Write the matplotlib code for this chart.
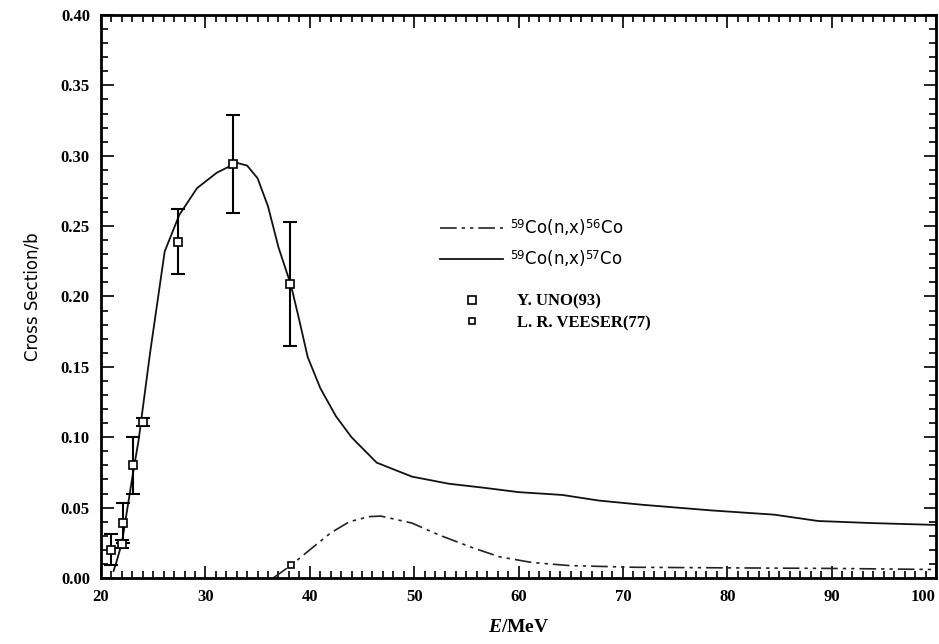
import matplotlib
matplotlib.use("Agg")
import matplotlib.pyplot as plt
from matplotlib.ticker import MultipleLocator, FormatStrFormatter

# 59Co(n,x)57Co excitation curve (solid)
e_co57 = [21.2, 21.5, 22.0, 22.9, 23.6, 24.7, 26.1, 27.5, 29.2, 31.1, 33.0, 34.0,
          35.0, 36.0, 37.0, 38.2, 39.0, 39.8, 41.0, 42.5, 44.0, 46.4, 48.6, 49.8,
          53.3, 56.8, 60.0, 64.2, 67.7, 71.9, 78.5, 84.5, 88.7, 93.9, 100.0]
xs_co57 = [0.005, 0.012, 0.025, 0.067, 0.098, 0.160, 0.232, 0.258, 0.277, 0.288, 0.295, 0.293,
           0.284, 0.264, 0.235, 0.208, 0.183, 0.157, 0.135, 0.115, 0.100, 0.082, 0.0755, 0.072,
           0.067, 0.064, 0.061, 0.059, 0.055, 0.052, 0.048, 0.045, 0.0405, 0.039, 0.0377]

# 59Co(n,x)56Co excitation curve (dash-dot)
e_co56 = [36.5, 38.2, 40.0, 42.0, 43.8, 45.7, 46.8, 48.6, 49.8, 52.4, 54.0, 55.6,
          58.2, 61.3, 64.9, 71.2, 80.0, 90.0, 97.8, 100.0]
xs_co56 = [0.0, 0.009, 0.020, 0.032, 0.040, 0.0436, 0.044, 0.041, 0.039, 0.0305, 0.026, 0.0215,
           0.015, 0.011, 0.0088, 0.0076, 0.0072, 0.0068, 0.0062, 0.006]

# measurements
e_uno = [21.0, 22.0, 22.1, 23.1, 24.0, 27.4, 32.6, 38.1]
xs_uno = [0.020, 0.024, 0.039, 0.080, 0.111, 0.239, 0.294, 0.209]
err_uno = [0.011, 0.003, 0.014, 0.020, 0.003, 0.023, 0.035, 0.044]

e_veeser = [38.2]
xs_veeser = [0.009]

plt.rcParams['mathtext.fontset'] = 'custom'
plt.rcParams['mathtext.rm'] = 'DejaVu Sans'
plt.rcParams['mathtext.it'] = 'Liberation Serif:italic:bold'

fig = plt.figure(figsize=(9.39, 6.44), dpi=100)
ax = fig.add_axes([0.1076, 0.1025, 0.8892, 0.8742])

l56, = ax.plot(e_co56, xs_co56, color='#222222', lw=1.2, dashes=[10, 3, 2, 3, 2, 3],
               label=r'$^{59}$Co(n,x)$^{56}$Co')
l57, = ax.plot(e_co57, xs_co57, color='#111111', lw=1.3, label=r'$^{59}$Co(n,x)$^{57}$Co')

ax.errorbar(e_uno, xs_uno, yerr=err_uno, fmt='none', ecolor='black', elinewidth=1.5,
            capsize=5, capthick=1.5)
p_uno, = ax.plot(e_uno, xs_uno, 's', ms=6, mfc='white', mec='black', mew=1.2,
                 linestyle='none', label='Y. UNO(93)')
p_vee, = ax.plot(e_veeser, xs_veeser, 's', ms=4, mfc='white', mec='black', mew=1.2,
                 linestyle='none', label='L. R. VEESER(77)')

ax.set_xlim(20, 100)
ax.set_ylim(0, 0.40)
ax.xaxis.set_major_locator(MultipleLocator(10))
ax.xaxis.set_minor_locator(MultipleLocator(1))
ax.yaxis.set_major_locator(MultipleLocator(0.05))
ax.yaxis.set_minor_locator(MultipleLocator(0.01))
ax.yaxis.set_major_formatter(FormatStrFormatter('%.2f'))
ax.tick_params(which='both', direction='in', top=True, right=True, width=1.2)
ax.tick_params(which='major', length=9, pad=8)
ax.tick_params(which='minor', length=5)
fig.canvas.draw()
for lab in ax.get_xticklabels() + ax.get_yticklabels():
    lab.set_family('Liberation Serif')
    lab.set_fontweight('bold')
    lab.set_fontsize(12)
# last x label sits flush with the right edge, as in the scan
for tick in ax.xaxis.get_major_ticks():
    if abs(tick.get_loc() - 100) < 1e-6:
        tick.label1.set_horizontalalignment('right')
        tick.label1.set_x(1.0)
for sp in ax.spines.values():
    sp.set_linewidth(2)

ax.set_ylabel('Cross Section/b', fontsize=12, labelpad=14)
ax.set_xlabel(r'$E$/MeV', fontsize=14, family='Liberation Serif', fontweight='bold', labelpad=10)

leg1 = ax.legend(handles=[l56, l57], loc='center left', bbox_to_anchor=(0.396, 0.595),
                 frameon=False, borderpad=0, handlelength=3.8, handletextpad=0.4,
                 labelspacing=0.6, prop={'size': 12})
ax.add_artist(leg1)
ax.legend(handles=[p_uno, p_vee], loc='center left', bbox_to_anchor=(0.396, 0.472),
          frameon=False, borderpad=0, handlelength=3.8, handletextpad=0.8,
          labelspacing=0.35, prop={'family': 'Liberation Serif', 'weight': 'bold', 'size': 12})

fig.savefig('out.png', dpi=100)
